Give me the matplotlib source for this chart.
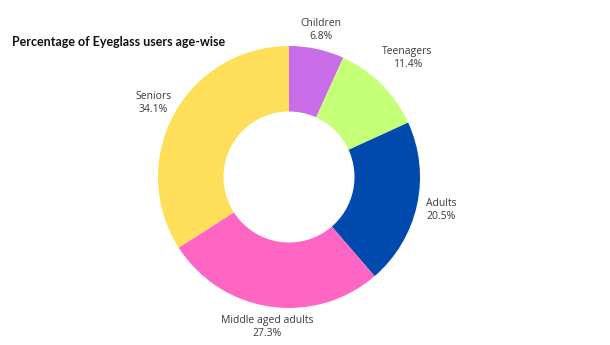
import matplotlib
matplotlib.use("Agg")
import matplotlib.pyplot as plt
import numpy as np

categories = ["Children", "Teenagers", "Adults", "Middle aged adults", "Seniors"]
values = [6.8, 11.4, 20.5, 27.3, 34.1]
colors = ["#c86ce8", "#c6ff78", "#004aad", "#ff66c4", "#ffde59"]
title = "Percentage of Eyeglass users age-wise"

plt.rcParams['font.family'] = ['Open Sans', 'DejaVu Sans']

fig = plt.figure(figsize=(6.1, 3.45), dpi=100)
ax = fig.add_axes([(289 - 131) / 610, (345 - 177 - 131) / 345, 262 / 610, 262 / 345])

labels = [f"{c}\n{v:.1f}%" for c, v in zip(categories, values)]
label_dist = [1.15, 1.28, 1.19, 1.16, 1.18]
wedges, texts = ax.pie(values, colors=colors, startangle=90, counterclock=False,
                       radius=1.0, labels=labels, labeldistance=1.2,
                       wedgeprops=dict(width=0.5, linewidth=0),
                       textprops=dict(fontsize=7.5, color="#3a3a3a", linespacing=1.25))
for t, w, d in zip(texts, wedges, label_dist):
    t.set_ha("center")
    t.set_va("center")
    ang = np.deg2rad((w.theta1 + w.theta2) / 2)
    t.set_position((d * np.cos(ang), d * np.sin(ang)))
ax.set_xlim(-1, 1)
ax.set_ylim(-1, 1)
ax.set_aspect("equal")
ax.axis("off")

fig.text(12 / 610, 1 - 42 / 345, title, fontsize=9, fontweight="bold", color="#111111",
         ha="left", va="center", family=["Lato", "DejaVu Sans"])

fig.savefig("out.png", dpi=100)
